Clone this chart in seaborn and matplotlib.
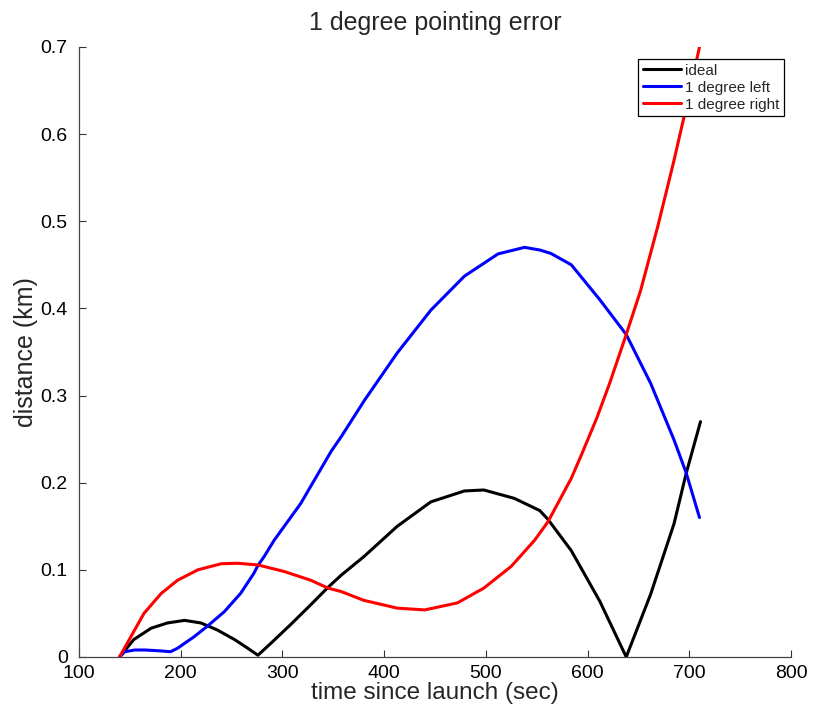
import numpy as np
import pandas as pd
import matplotlib
matplotlib.use("Agg")
import matplotlib.pyplot as plt
import seaborn as sns

# values (time in sec, distance in km)
ideal_t = [140, 154, 171, 187, 204, 220, 236, 253, 266, 276, 289, 308, 328, 345, 358,
           380, 413, 446, 479, 498, 528, 553, 561, 584, 612, 638, 662, 685, 697, 711]
ideal_d = [0.0, 0.020, 0.033, 0.039, 0.042, 0.039, 0.031, 0.020, 0.010, 0.002, 0.016,
           0.037, 0.060, 0.080, 0.094, 0.115, 0.150, 0.178, 0.1905, 0.1916, 0.182,
           0.168, 0.158, 0.122, 0.064, 0.0, 0.072, 0.153, 0.211, 0.270]

left_t = [140, 145, 155, 165, 180, 190, 197, 213, 226, 243, 259, 272, 276, 282, 292,
          318, 348, 358, 381, 413, 446, 479, 512, 538, 553, 564, 584, 612, 638, 662,
          685, 697, 710]
left_d = [0.0, 0.006, 0.008, 0.008, 0.007, 0.006, 0.010, 0.023, 0.035, 0.052, 0.073,
          0.096, 0.105, 0.115, 0.134, 0.176, 0.236, 0.253, 0.295, 0.349, 0.398, 0.437,
          0.4625, 0.470, 0.467, 0.463, 0.450, 0.410, 0.370, 0.314, 0.249, 0.211, 0.160]

right_t = [140, 151, 164, 181, 197, 217, 240, 256, 276, 302, 328, 345, 358, 380, 413,
           440, 472, 498, 525, 548, 561, 584, 594, 609, 622, 638, 652, 669, 685, 698,
           710]
right_d = [0.0, 0.023, 0.050, 0.073, 0.088, 0.100, 0.107, 0.1075, 0.1056, 0.098, 0.088,
           0.079, 0.075, 0.065, 0.056, 0.054, 0.062, 0.079, 0.104, 0.134, 0.155, 0.205,
           0.232, 0.274, 0.315, 0.370, 0.420, 0.494, 0.570, 0.636, 0.700]

series = ["ideal", "1 degree left", "1 degree right"]
colors = ["black", "blue", "red"]

df = pd.concat([
    pd.DataFrame({"t": ideal_t, "d": ideal_d, "run": series[0]}),
    pd.DataFrame({"t": left_t, "d": left_d, "run": series[1]}),
    pd.DataFrame({"t": right_t, "d": right_d, "run": series[2]}),
], ignore_index=True)

sns.set_style("ticks")
plt.rcParams["font.family"] = ["Liberation Sans", "DejaVu Sans"]
plt.rcParams["xtick.direction"] = "in"
plt.rcParams["ytick.direction"] = "in"

fig = plt.figure(figsize=(8.13, 7.11), dpi=100)
ax = fig.add_axes([0.097, 0.076, 0.876, 0.858])

sns.lineplot(data=df, x="t", y="d", hue="run", hue_order=series,
             palette=dict(zip(series, colors)), sort=False, linewidth=2.2,
             estimator=None, ax=ax)
for ln in ax.get_lines():
    ln.set_solid_joinstyle("round")

ax.set_xlim(100, 800)
ax.set_ylim(0, 0.7)
ax.set_xticks(np.arange(100, 801, 100))
ax.set_yticks(np.arange(0, 0.71, 0.1))
ax.set_yticklabels(["0", "0.1", "0.2", "0.3", "0.4", "0.5", "0.6", "0.7"])
ax.tick_params(labelsize=14, length=5, width=0.8, colors="#333333", labelcolor="black")
ax.tick_params(axis="y", pad=8)
ax.tick_params(axis="x", pad=6)
for s in ["left", "bottom"]:
    ax.spines[s].set_color("#444444")
    ax.spines[s].set_linewidth(0.9)
sns.despine(ax=ax)

ax.set_xlabel("time since launch (sec)", fontsize=17.5, labelpad=0)
ax.set_ylabel("distance (km)", fontsize=18, labelpad=2)
ax.set_title("1 degree pointing error", fontsize=18, pad=12)

leg = ax.legend(loc="upper right", bbox_to_anchor=(0.995, 0.985), fontsize=11,
                frameon=True, fancybox=False, framealpha=1, edgecolor="black",
                handlelength=2.5, borderpad=0.3, labelspacing=0.2, borderaxespad=0.2,
                handletextpad=0.3)
leg.get_frame().set_linewidth(0.9)

fig.savefig("out.png", dpi=100)
